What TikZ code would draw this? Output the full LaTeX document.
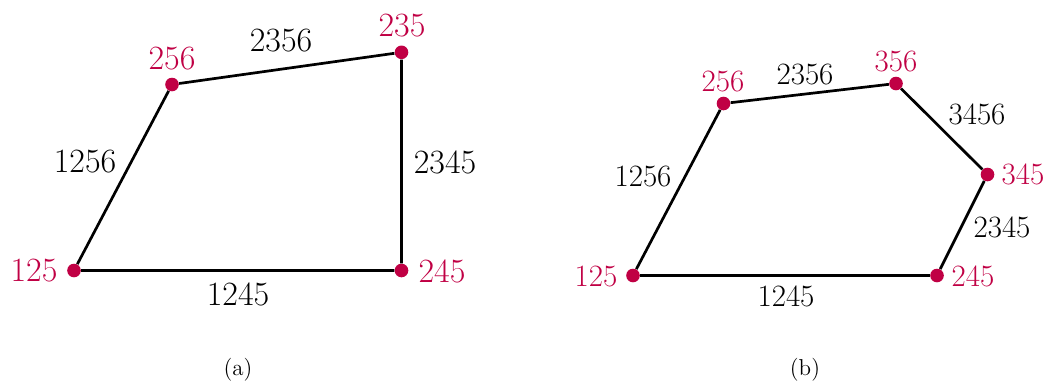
\documentclass[tikz,border=0pt]{standalone}
\usepackage{xcolor}
\definecolor{vred}{RGB}{192,0,68}
\begin{document}
\begin{tikzpicture}[x=0.5pt,y=-0.5pt,
  dot/.style={circle,fill=vred,inner sep=0pt,minimum size=6.8pt},
  edge/.style={line width=1.35pt,black},
  vlabA/.style={text=vred,inner sep=0pt,font=\fontsize{17}{19}\selectfont},
  elabA/.style={text=black,inner sep=0pt,font=\fontsize{17}{19}\selectfont},
  vlabB/.style={text=vred,inner sep=0pt,font=\fontsize{15.5}{17}\selectfont},
  elabB/.style={text=black,inner sep=0pt,font=\fontsize{15.5}{17}\selectfont},
  subcap/.style={inner sep=0pt,font=\fontsize{11.5}{13}\selectfont}]
\useasboundingbox (0,0) rectangle (1046,381);
% (a)
\node[dot] (a125) at (74,270.5) {};
\node[dot] (a245) at (401.5,270.5) {};
\node[dot] (a235) at (401.5,52.3) {};
\node[dot] (a256) at (172,84.5) {};
\draw[edge] (a125) -- (a245) -- (a235) -- (a256) -- (a125);
\node[vlabA] (la125) at (34,271) {125};
\node[vlabA] (la245) at (442,271) {245};
\node[vlabA] (la235) at (402,26) {235};
\node[vlabA] (la256) at (172,59) {256};
\node[elabA] (ea2356) at (281,41) {2356};
\node[elabA] (ea1256) at (85,162) {1256};
\node[elabA] (ea2345) at (445,162) {2345};
\node[elabA] (ea1245) at (238,294) {1245};
\node[subcap] (capa) at (238,370) {(a)};
% (b)
\node[dot] (b125) at (633,275.5) {};
\node[dot] (b245) at (937,275.5) {};
\node[dot] (b345) at (987.5,174.5) {};
\node[dot] (b356) at (896,83.5) {};
\node[dot] (b256) at (723.5,103.5) {};
\draw[edge] (b125) -- (b245) -- (b345) -- (b356) -- (b256) -- (b125);
\node[vlabB] (lb125) at (596,276) {125};
\node[vlabB] (lb245) at (973,276) {245};
\node[vlabB] (lb345) at (1023,174) {345};
\node[vlabB] (lb356) at (896,61) {356};
\node[vlabB] (lb256) at (723,81) {256};
\node[elabB] (eb2356) at (805,74) {2356};
\node[elabB] (eb3456) at (977,114) {3456};
\node[elabB] (eb1256) at (643,176) {1256};
\node[elabB] (eb2345) at (1002,227) {2345};
\node[elabB] (eb1245) at (786,296) {1245};
\node[subcap] (capb) at (805,370) {(b)};
\end{tikzpicture}
\end{document}
